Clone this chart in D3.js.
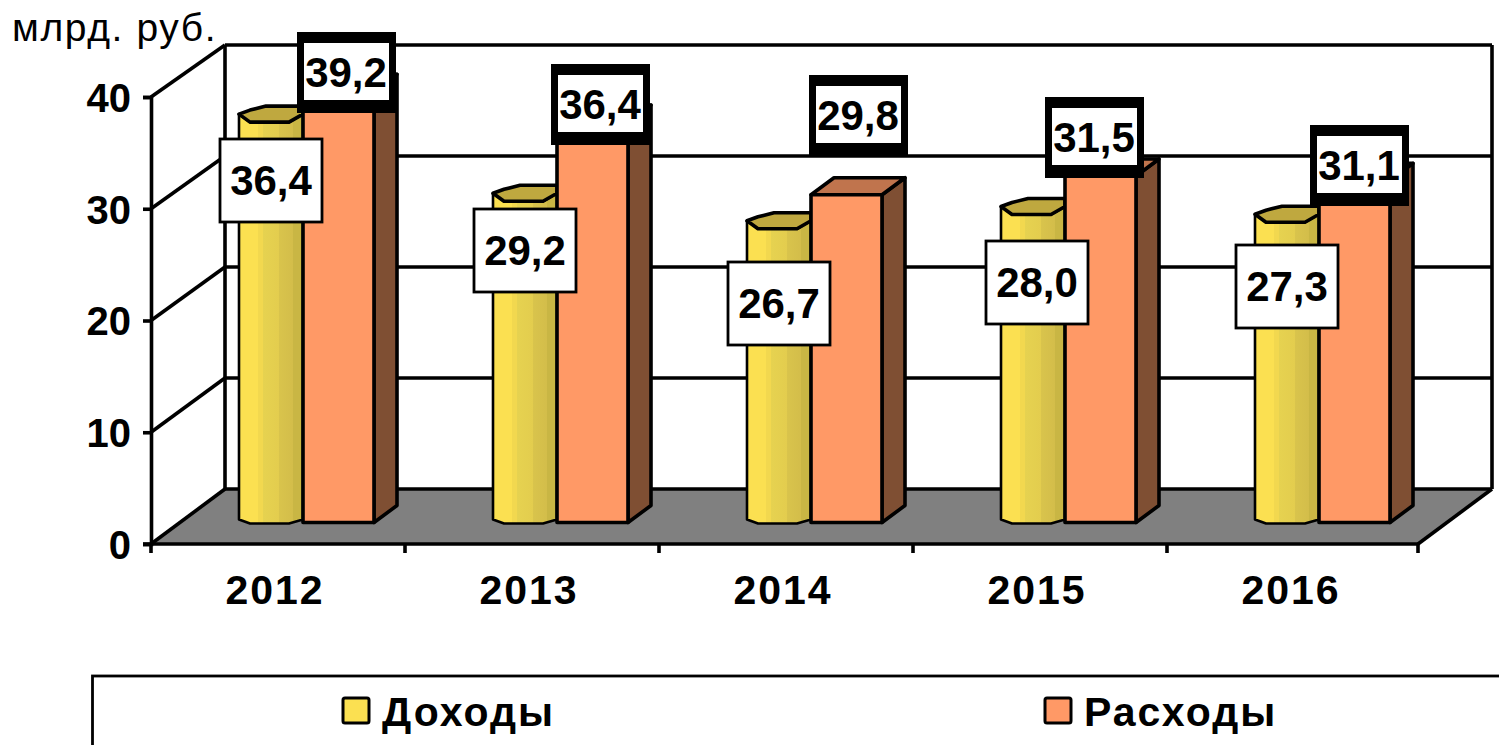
<!DOCTYPE html>
<html>
<head>
<meta charset="utf-8">
<script src="https://cdn.jsdelivr.net/npm/d3@7"></script>
<style>
	body { margin: 0; background: #fff; }
	svg { display: block; }
	text { font-family: "Liberation Sans", Arial, sans-serif; fill: #000; }
	.tick-label text, .bold { font-weight: bold; }
</style>
</head>
<body>
<svg></svg>
<script>
const years = ['2012', '2013', '2014', '2015', '2016'];
const income = [36.4, 29.2, 26.7, 28.0, 27.3];
const expense = [39.2, 36.4, 29.8, 31.5, 31.1];
const valueTicks = [0, 10, 20, 30, 40];
const seriesNames = ['Доходы', 'Расходы'];
const unitLabel = 'млрд. руб.';

// hand-placed data labels in the original, top-left corner of each box
const incomeBoxAt = [[219, 138], [473, 208], [727, 261], [985, 240], [1235, 244]];
const expenseBoxAt = [[297, 32], [551, 64], [809, 75], [1045, 97], [1310, 125]];

const width = 1499;
const height = 745;
const lineW = 3.6;
const axisEnd = 1418;
const depth = { x: 74, y: -55 };
const barDepth = { x: 23, y: -17 };

const comma = d => d3.format('.1f')(d).replace('.', ',');

const svg = d3.select('svg').attr('width', width).attr('height', height);

const xScale = d3.scaleBand().domain(years).range([151, 1421]);
const yAxisScale = d3.scaleLinear().domain([0, 40]).range([544, 97]);
const yWallScale = d3.scaleLinear().domain([0, 40]).range([489, 45]);
const yBarScale = d3.scaleLinear().domain([0, 40]).range([522.5, 82.5]);

const polygon = pts => 'M' + pts.map(p => p.join(',')).join('L') + 'Z';

// strips of the yellow prism
const defs = svg.append('defs');
const grad = defs.append('linearGradient').attr('id', 'prism');
[[0, '#fbe051'], [0.3, '#fbe051'], [0.3, '#f2d84f'], [0.38, '#f2d84f'], [0.38, '#e6d250'], [0.62, '#e3cd4e'],
	[0.62, '#d9c44c'], [0.85, '#d3bd4a'], [0.85, '#c9b644'], [1, '#c9b644']]
	.forEach(s => grad.append('stop').attr('offset', s[0]).attr('stop-color', s[1]));

// back wall and grid
const wall = svg.append('g').attr('fill', 'none').attr('stroke', '#000').attr('stroke-width', lineW);
const floorRight = axisEnd + depth.x;

wall.append('path')
	.attr('d', polygon([[151, 544], [225, 489], [floorRight, 489], [axisEnd, 544]]))
	.attr('fill', '#808080')
	.attr('stroke', 'none');

wall.selectAll('line.grid').data(valueTicks).enter().append('line')
	.attr('class', 'grid')
	.attr('x1', 225).attr('x2', floorRight)
	.attr('y1', d => yWallScale(d)).attr('y2', d => yWallScale(d));

wall.selectAll('line.side').data(valueTicks).enter().append('line')
	.attr('class', 'side')
	.attr('x1', 151).attr('x2', 225)
	.attr('y1', d => yAxisScale(d)).attr('y2', d => yWallScale(d));

wall.append('line').attr('x1', 225).attr('x2', 225).attr('y1', yWallScale(40)).attr('y2', yWallScale(0));
wall.append('line').attr('x1', floorRight).attr('x2', floorRight).attr('y1', yWallScale(40)).attr('y2', yWallScale(0));
wall.append('line').attr('x1', axisEnd).attr('x2', floorRight).attr('y1', 544).attr('y2', 489);

// axes
const yAxis = d3.axisLeft(yAxisScale).tickValues(valueTicks).tickSize(8).tickPadding(12);
const yAxisGroup = svg.append('g').attr('class', 'tick-label').attr('transform', 'translate(151,0)').call(yAxis);
yAxisGroup.selectAll('line, path').attr('stroke', '#000').attr('stroke-width', lineW);
yAxisGroup.selectAll('text').attr('font-size', 40).attr('dy', '0.36em').attr('font-family', null);

const xAxis = d3.axisBottom(xScale).tickSize(0).tickPadding(31);
const xAxisGroup = svg.append('g').attr('class', 'tick-label').attr('transform', 'translate(-3,544)').call(xAxis);
xAxisGroup.select('.domain').remove();
xAxisGroup.selectAll('text').attr('font-size', 41).attr('letter-spacing', 2).attr('font-family', null);

const baseAxis = svg.append('g').attr('stroke', '#000').attr('stroke-width', lineW);
baseAxis.append('line').attr('x1', 143).attr('x2', axisEnd).attr('y1', 544).attr('y2', 544);
baseAxis.selectAll('line.tick').data(years.concat('end')).enter().append('line')
	.attr('class', 'tick')
	.attr('x1', (d, i) => Math.min(151 + i * xScale.step(), axisEnd))
	.attr('x2', (d, i) => Math.min(151 + i * xScale.step(), axisEnd))
	.attr('y1', 544).attr('y2', 553);

// bars
const bars = svg.append('g').attr('stroke', '#000').attr('stroke-linejoin', 'round');
const yBase = yBarScale(0);
const incomeX = d => xScale(d) + 88;
const expenseX = d => xScale(d) + 152;
const incomeW = 64;
const expenseW = 71;

years.forEach((year, i) => {
	const x0 = incomeX(year);
	const top = yBarScale(income[i]);

	bars.append('path')
		.attr('d', polygon([[x0, top - 8], [x0 + 11, top], [x0 + 50, top], [x0 + incomeW, top - 8],
			[x0 + incomeW, yBase - 3], [x0 + 50, yBase + 1], [x0 + 11, yBase + 1], [x0, yBase - 3]]))
		.attr('fill', 'url(#prism)')
		.attr('stroke-width', 2.6);

	bars.append('path')
		.attr('d', polygon([[x0, top - 8], [x0 + 11, top - 12], [x0 + 27, top - 16], [x0 + incomeW, top - 16],
			[x0 + incomeW, top - 8], [x0 + 50, top], [x0 + 11, top]]))
		.attr('fill', '#bfa83f')
		.attr('stroke-width', lineW);

	const x1 = expenseX(year);
	const w = expenseW;
	const y1 = yBarScale(expense[i]);
	const dx = barDepth.x;
	const dy = barDepth.y;

	bars.append('path')
		.attr('d', polygon([[x1 + w, y1], [x1 + w + dx, y1 + dy], [x1 + w + dx, yBase + dy], [x1 + w, yBase]]))
		.attr('fill', '#7f4f33')
		.attr('stroke-width', lineW);

	bars.append('path')
		.attr('d', polygon([[x1, y1], [x1 + dx, y1 + dy], [x1 + w + dx, y1 + dy], [x1 + w, y1]]))
		.attr('fill', '#c0744d')
		.attr('stroke-width', lineW);

	bars.append('rect')
		.attr('x', x1).attr('y', y1)
		.attr('width', w).attr('height', yBase - y1)
		.attr('fill', '#ff9966')
		.attr('stroke-width', lineW);
});

// data labels
const labels = svg.append('g');

income.forEach((v, i) => {
	const [x, y] = incomeBoxAt[i];
	labels.append('rect')
		.attr('x', x + 1).attr('y', y + 1)
		.attr('width', 102).attr('height', 83)
		.attr('fill', '#fff').attr('stroke', '#000').attr('stroke-width', 2.8);
	labels.append('text')
		.attr('class', 'bold')
		.attr('x', x + 52).attr('y', y + 57)
		.attr('text-anchor', 'middle')
		.attr('font-size', 42)
		.text(comma(v));
});

expense.forEach((v, i) => {
	const [x, y] = expenseBoxAt[i];
	labels.append('rect')
		.attr('x', x).attr('y', y)
		.attr('width', 99).attr('height', 81)
		.attr('fill', '#000');
	labels.append('rect')
		.attr('x', x + 7).attr('y', y + 11)
		.attr('width', 85).attr('height', 57)
		.attr('fill', '#fff');
	labels.append('text')
		.attr('class', 'bold')
		.attr('x', x + 49).attr('y', y + 55)
		.attr('text-anchor', 'middle')
		.attr('font-size', 42)
		.text(comma(v));
});

svg.append('text')
	.attr('x', 12).attr('y', 41)
	.attr('font-size', 39)
	.attr('letter-spacing', 1.6)
	.text(unitLabel);

// legend, runs off the right and bottom edge like the original
svg.append('rect')
	.attr('x', 92.5).attr('y', 676)
	.attr('width', 1500).attr('height', 120)
	.attr('fill', '#fff').attr('stroke', '#000').attr('stroke-width', 2.8);

const legendX = d3.scaleOrdinal().domain(seriesNames).range([343, 1045]);
const legendColor = d3.scaleOrdinal().domain(seriesNames).range(['#fbe051', '#ff9966']);

const legend = svg.selectAll('g.legend').data(seriesNames).enter().append('g')
	.attr('class', 'legend')
	.attr('transform', d => `translate(${legendX(d)},698)`);

legend.append('rect')
	.attr('width', 26).attr('height', 25).attr('rx', 2)
	.attr('fill', d => legendColor(d))
	.attr('stroke', '#000').attr('stroke-width', 3);

legend.append('text')
	.attr('class', 'bold')
	.attr('x', 39).attr('y', 28)
	.attr('font-size', 41)
	.attr('letter-spacing', 2)
	.text(d => d);
</script>
</body>
</html>
